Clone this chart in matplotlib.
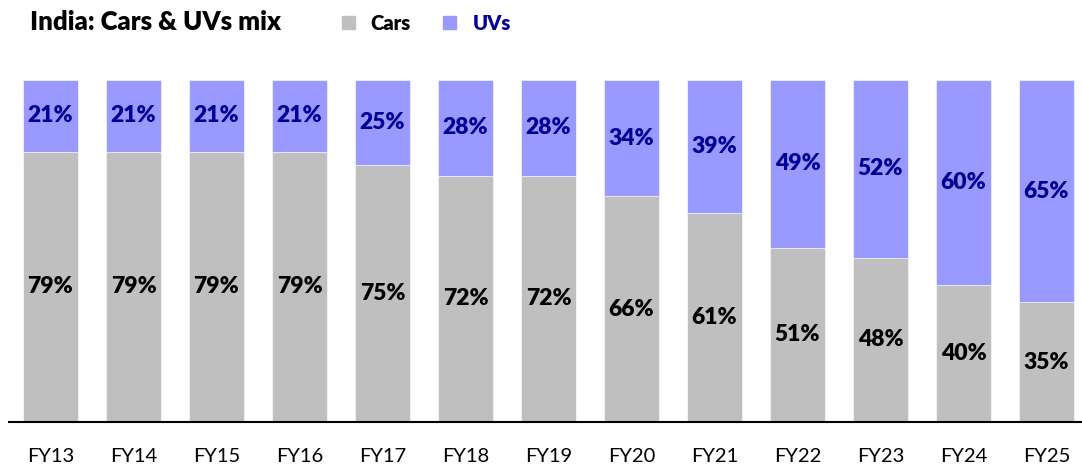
import numpy as np
import matplotlib.pyplot as plt
from matplotlib.patches import Rectangle

plt.rcParams['font.family'] = ['Lato', 'DejaVu Sans']

years = ['FY13', 'FY14', 'FY15', 'FY16', 'FY17', 'FY18', 'FY19',
         'FY20', 'FY21', 'FY22', 'FY23', 'FY24', 'FY25']
cars = [79, 79, 79, 79, 75, 72, 72, 66, 61, 51, 48, 40, 35]
uvs = [21, 21, 21, 21, 25, 28, 28, 34, 39, 49, 52, 60, 65]

grey = '#bfbfbf'
purple = '#9999ff'
navy = '#000099'

fig = plt.figure(figsize=(10.82, 4.70), dpi=100)
ax = fig.add_axes([9/1082, 48/470, 1073/1082, 342/470])

x = np.arange(len(years))
w = 0.663
ax.bar(x, cars, w, color=grey, edgecolor='white', linewidth=0.4)
ax.bar(x, uvs, w, bottom=cars, color=purple, edgecolor='white', linewidth=0.4)

for i in range(len(years)):
    ax.text(x[i], cars[i] / 2, f'{cars[i]}%', ha='center', va='center',
            fontsize=16.5, fontweight='heavy', color='black')
    ax.text(x[i], cars[i] + uvs[i] / 2, f'{uvs[i]}%', ha='center', va='center',
            fontsize=16.5, fontweight='heavy', color=navy)

ax.set_xlim(-0.5, 12.5 - 6/83)
ax.set_ylim(0, 100)
ax.set_xticks(x)
ax.set_xticklabels(years, fontsize=14.5)
ax.tick_params(axis='x', length=0, pad=19)
ax.set_yticks([])
for s in ['top', 'right', 'left']:
    ax.spines[s].set_visible(False)
ax.spines['bottom'].set_linewidth(1.5)

# title and legend
fig.text(30/1082, 1 - 22/470, 'India: Cars & UVs mix', fontsize=18.5,
         fontweight='heavy', va='center', ha='left')
fig.patches.append(Rectangle((342/1082, 1 - 29/470), 13/1082, 13/470,
                             transform=fig.transFigure, color=grey))
fig.text(370/1082, 1 - 23/470, 'Cars', fontsize=14.5, fontweight='heavy',
         va='center', ha='left')
fig.patches.append(Rectangle((443/1082, 1 - 29/470), 13/1082, 13/470,
                             transform=fig.transFigure, color=purple))
fig.text(473/1082, 1 - 23/470, 'UVs', fontsize=14.5, fontweight='heavy',
         va='center', ha='left', color=navy)

fig.savefig('out.png', dpi=100)
